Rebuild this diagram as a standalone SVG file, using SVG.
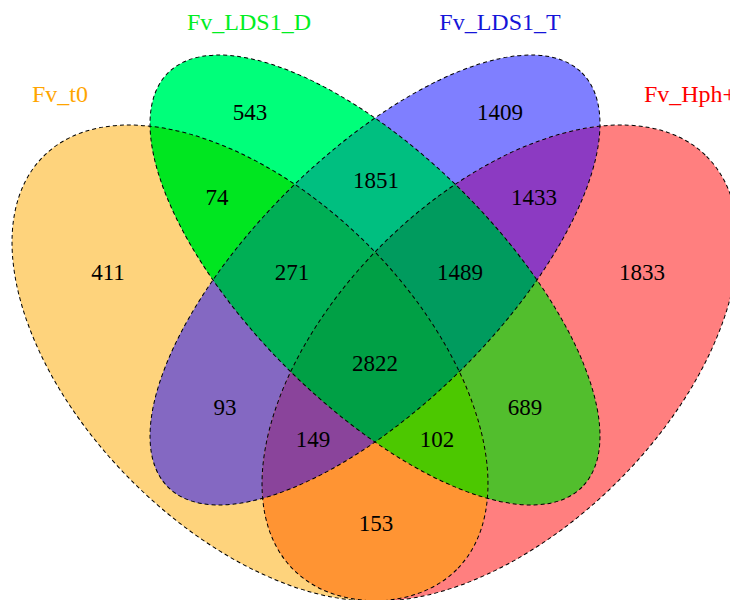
<svg xmlns="http://www.w3.org/2000/svg" width="730" height="600" viewBox="0 0 730 600">
<defs>
<style>
.num{font-family:"Liberation Serif","Times New Roman",serif;font-size:23px;fill:#000;text-anchor:middle}
.lab{font-family:"Liberation Serif","Times New Roman",serif;font-size:24px;text-anchor:middle}
.outline{fill:none;stroke:#000;stroke-width:1;stroke-dasharray:4 3}
</style>
<clipPath id="cA"><ellipse cx="250" cy="363" rx="292.2" ry="167" transform="rotate(45 250 363)"/></clipPath>
<clipPath id="cB"><ellipse cx="375" cy="280" rx="292.8" ry="124.5" transform="rotate(45 375 280)"/></clipPath>
<clipPath id="cC"><ellipse cx="375" cy="280" rx="292.8" ry="124.5" transform="rotate(-45 375 280)"/></clipPath>
<clipPath id="cD"><ellipse cx="500" cy="363" rx="292.2" ry="167" transform="rotate(-45 500 363)"/></clipPath>
</defs>
<rect width="730" height="600" fill="#fff"/>
<g id="regions">
<g clip-path="url(#cA)"><rect width="730" height="600" fill="#FED37C"/></g>
<g clip-path="url(#cB)"><rect width="730" height="600" fill="#00FF7A"/></g>
<g clip-path="url(#cC)"><rect width="730" height="600" fill="#7F7FFF"/></g>
<g clip-path="url(#cD)"><rect width="730" height="600" fill="#FF7F7F"/></g>
<g clip-path="url(#cA)"><g clip-path="url(#cB)"><rect width="730" height="600" fill="#00E620"/></g></g>
<g clip-path="url(#cB)"><g clip-path="url(#cC)"><rect width="730" height="600" fill="#00BF80"/></g></g>
<g clip-path="url(#cC)"><g clip-path="url(#cD)"><rect width="730" height="600" fill="#8C3AC2"/></g></g>
<g clip-path="url(#cA)"><g clip-path="url(#cC)"><rect width="730" height="600" fill="#8468C2"/></g></g>
<g clip-path="url(#cB)"><g clip-path="url(#cD)"><rect width="730" height="600" fill="#52BE2D"/></g></g>
<g clip-path="url(#cA)"><g clip-path="url(#cD)"><rect width="730" height="600" fill="#FF9433"/></g></g>
<g clip-path="url(#cA)"><g clip-path="url(#cB)"><g clip-path="url(#cC)"><rect width="730" height="600" fill="#00AF55"/></g></g></g>
<g clip-path="url(#cB)"><g clip-path="url(#cC)"><g clip-path="url(#cD)"><rect width="730" height="600" fill="#009B5E"/></g></g></g>
<g clip-path="url(#cA)"><g clip-path="url(#cC)"><g clip-path="url(#cD)"><rect width="730" height="600" fill="#8A449B"/></g></g></g>
<g clip-path="url(#cA)"><g clip-path="url(#cB)"><g clip-path="url(#cD)"><rect width="730" height="600" fill="#4CC800"/></g></g></g>
<g clip-path="url(#cA)"><g clip-path="url(#cB)"><g clip-path="url(#cC)"><g clip-path="url(#cD)"><rect width="730" height="600" fill="#00A045"/></g></g></g></g>
</g>
<g id="set-Fv_t0">
<ellipse class="outline" cx="250" cy="363" rx="292.2" ry="167" transform="rotate(45 250 363)"/>
<text class="lab" x="60" y="102" fill="#FFA500">Fv_t0</text>
</g>
<g id="set-Fv_LDS1_D">
<ellipse class="outline" cx="375" cy="280" rx="292.8" ry="124.5" transform="rotate(45 375 280)"/>
<text class="lab" x="249" y="30" fill="#00EE22">Fv_LDS1_D</text>
</g>
<g id="set-Fv_LDS1_T">
<ellipse class="outline" cx="375" cy="280" rx="292.8" ry="124.5" transform="rotate(-45 375 280)"/>
<text class="lab" x="500" y="30" fill="#1515D8">Fv_LDS1_T</text>
</g>
<g id="set-Fv_Hph">
<ellipse class="outline" cx="500" cy="363" rx="292.2" ry="167" transform="rotate(-45 500 363)"/>
<text class="lab" x="690" y="102" fill="#FF0000">Fv_Hph+</text>
</g>
<g id="counts">
<text class="num" x="250" y="120">543</text>
<text class="num" x="500" y="120">1409</text>
<text class="num" x="217" y="205">74</text>
<text class="num" x="376" y="188">1851</text>
<text class="num" x="534" y="205">1433</text>
<text class="num" x="108" y="280">411</text>
<text class="num" x="292" y="280">271</text>
<text class="num" x="460" y="280">1489</text>
<text class="num" x="642" y="280">1833</text>
<text class="num" x="375" y="371">2822</text>
<text class="num" x="225" y="415">93</text>
<text class="num" x="525" y="415">689</text>
<text class="num" x="313" y="447">149</text>
<text class="num" x="437" y="447">102</text>
<text class="num" x="376" y="531">153</text>
</g>
</svg>
